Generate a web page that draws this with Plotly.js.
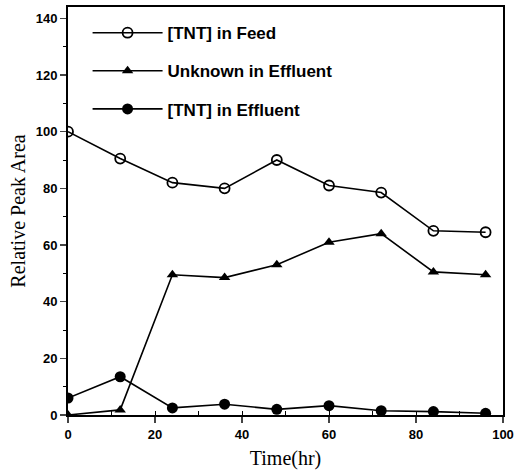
<!DOCTYPE html>
<html>
<head>
<meta charset="utf-8">
<script src="https://cdn.plot.ly/plotly-3.0.1.min.js"></script>
<style>html,body{margin:0;padding:0;background:#fff;}#chart{width:524px;height:473px;}</style>
</head>
<body>
<div id="chart"></div>
<script>
const timeHr = [0, 12, 24, 36, 48, 60, 72, 84, 96];
const tntFeed = [100, 90.5, 82, 80, 90, 81, 78.5, 65, 64.5];
const unknownEffluent = [0, 1.8, 49.5, 48.5, 53, 61, 64, 50.5, 49.5];
const tntEffluent = [6, 13.5, 2.5, 3.8, 2, 3.3, 1.5, 1.2, 0.6];
const seriesNames = ['[TNT] in Feed', 'Unknown in Effluent', '[TNT] in Effluent'];

const lineStyle = {color: '#000', width: 1.6};
const traces = [
  {x: timeHr, y: tntFeed, name: seriesNames[0], legendgroup: 'a', mode: 'lines+markers', line: lineStyle,
   marker: {symbol: 'circle-open', size: 10, color: '#000', line: {width: 1.8, color: '#000'}}},
  {x: timeHr, y: unknownEffluent, name: seriesNames[1], legendgroup: 'b', mode: 'lines+markers', line: lineStyle,
   marker: {symbol: 'triangle-up', size: 10, color: '#000'}},
  {x: timeHr, y: tntEffluent, name: seriesNames[2], legendgroup: 'c', mode: 'lines+markers', line: lineStyle,
   marker: {symbol: 'circle', size: 11, color: '#000'}}
];

const tickFont = {family: 'Liberation Sans, Arial, sans-serif', size: 13, color: '#000', weight: 'bold'};
const titleFont = {family: 'Liberation Serif, Times New Roman, serif', size: 20, color: '#000'};
const layout = {
  width: 524, height: 473,
  margin: {l: 68, r: 21, t: 7, b: 58},
  paper_bgcolor: '#fff', plot_bgcolor: '#fff',
  showlegend: true,
  legend: {x: 0.045, y: 0.98, xanchor: 'left', yanchor: 'top', bgcolor: 'rgba(0,0,0,0)',
    font: {family: 'Liberation Sans, Arial, sans-serif', size: 17, color: '#000', weight: 'bold'},
    tracegroupgap: 13, itemwidth: 70},
  xaxis: {range: [0, 100], tick0: 0, dtick: 20, ticks: 'outside', ticklen: 6, tickwidth: 1.5,
    showline: true, linewidth: 2, linecolor: '#000', mirror: true, showgrid: false, zeroline: false,
    tickfont: tickFont,
    minor: {dtick: 10, ticks: 'inside', ticklen: 4, tickwidth: 1, tickcolor: '#000'},
    title: {text: 'Time(hr)', font: titleFont, standoff: 10}},
  yaxis: {range: [0, 144], tick0: 0, dtick: 20, ticks: 'outside', ticklen: 6, tickwidth: 1.5,
    showline: true, linewidth: 2, linecolor: '#000', mirror: true, showgrid: false, zeroline: false,
    tickfont: tickFont,
    minor: {dtick: 10, ticks: 'outside', ticklen: 3, tickwidth: 1, tickcolor: '#000'},
    title: {text: 'Relative Peak Area', font: titleFont, standoff: 5}}
};

Plotly.newPlot('chart', traces, layout, {displayModeBar: false, staticPlot: true});
</script>
</body>
</html>
